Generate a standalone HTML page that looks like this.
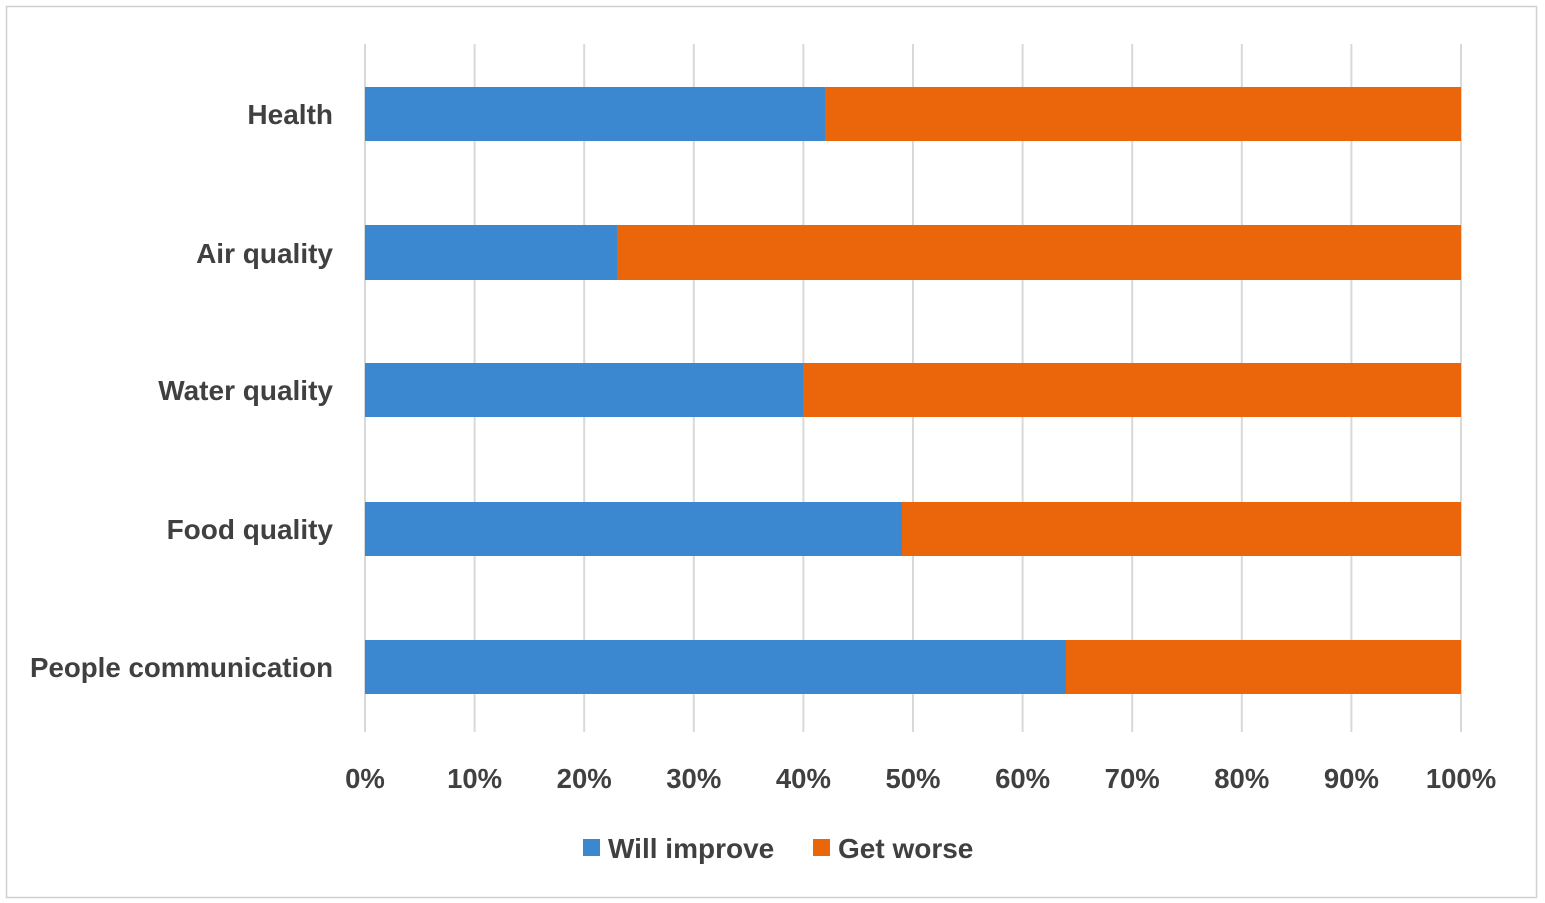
<!DOCTYPE html>
<html><head><meta charset="utf-8"><style>html,body{margin:0;padding:0;background:#fff}svg{display:block}</style></head>
<body>
<svg width="1545" height="903" viewBox="0 0 1545 903" xmlns="http://www.w3.org/2000/svg" font-family="'Liberation Sans', sans-serif" font-weight="bold" fill="#404040">
<rect x="6.5" y="6.5" width="1530" height="891" fill="#fff" stroke="#d0d0d0" stroke-width="1.5"/>
<g stroke="#d9d9d9" stroke-width="2">
<line x1="365" y1="44" x2="365" y2="732"/><line x1="474.6" y1="44" x2="474.6" y2="732"/><line x1="584.2" y1="44" x2="584.2" y2="732"/><line x1="693.8" y1="44" x2="693.8" y2="732"/><line x1="803.4" y1="44" x2="803.4" y2="732"/><line x1="913" y1="44" x2="913" y2="732"/><line x1="1022.6" y1="44" x2="1022.6" y2="732"/><line x1="1132.2" y1="44" x2="1132.2" y2="732"/><line x1="1241.8" y1="44" x2="1241.8" y2="732"/><line x1="1351.4" y1="44" x2="1351.4" y2="732"/><line x1="1461" y1="44" x2="1461" y2="732"/>
</g>
<g>
<rect x="365" y="87" width="460" height="54" fill="#3b88d1"/><rect x="825" y="87" width="636" height="54" fill="#eb650a"/>
<rect x="365" y="225" width="252" height="55" fill="#3b88d1"/><rect x="617" y="225" width="844" height="55" fill="#eb650a"/>
<rect x="365" y="363" width="438" height="54" fill="#3b88d1"/><rect x="803" y="363" width="658" height="54" fill="#eb650a"/>
<rect x="365" y="502" width="537" height="54" fill="#3b88d1"/><rect x="902" y="502" width="559" height="54" fill="#eb650a"/>
<rect x="365" y="640" width="701" height="54" fill="#3b88d1"/><rect x="1066" y="640" width="395" height="54" fill="#eb650a"/>
</g>
<g font-size="28" text-anchor="end">
<text x="333" y="124">Health</text>
<text x="333" y="263">Air quality</text>
<text x="333" y="400">Water quality</text>
<text x="333" y="539">Food quality</text>
<text x="333" y="677" textLength="303" lengthAdjust="spacingAndGlyphs">People communication</text>
</g>
<g font-size="27.5" text-anchor="middle">
<text x="365" y="788">0%</text><text x="474.6" y="788">10%</text><text x="584.2" y="788">20%</text><text x="693.8" y="788">30%</text><text x="803.4" y="788">40%</text><text x="913" y="788">50%</text><text x="1022.6" y="788">60%</text><text x="1132.2" y="788">70%</text><text x="1241.8" y="788">80%</text><text x="1351.4" y="788">90%</text><text x="1461" y="788">100%</text>
</g>
<rect x="583" y="839" width="17" height="17" fill="#3b88d1"/>
<text x="608" y="858" font-size="28">Will improve</text>
<rect x="813" y="839" width="17" height="17" fill="#eb650a"/>
<text x="838" y="858" font-size="28">Get worse</text>
</svg>
</body></html>
